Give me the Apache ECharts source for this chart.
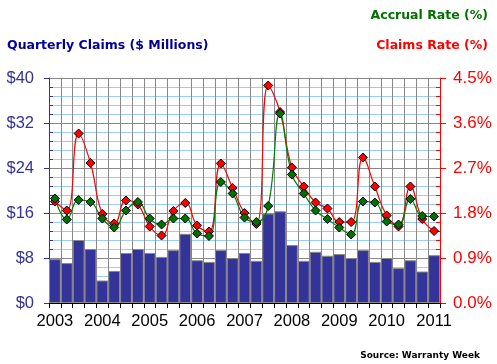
<!DOCTYPE html>
<html><head><meta charset="utf-8">
<script src="https://cdn.jsdelivr.net/npm/echarts@6/dist/echarts.min.js"></script>
<style>html,body{margin:0;padding:0;background:#fff}#c{width:497px;height:364px}</style>
</head><body><div id="c"></div>
<script>
var categories = ['2003 Q1','2003 Q2','2003 Q3','2003 Q4','2004 Q1','2004 Q2','2004 Q3','2004 Q4',
 '2005 Q1','2005 Q2','2005 Q3','2005 Q4','2006 Q1','2006 Q2','2006 Q3','2006 Q4',
 '2007 Q1','2007 Q2','2007 Q3','2007 Q4','2008 Q1','2008 Q2','2008 Q3','2008 Q4',
 '2009 Q1','2009 Q2','2009 Q3','2009 Q4','2010 Q1','2010 Q2','2010 Q3','2010 Q4','2011 Q1'];
var claims = [7.8,7.1,11.2,9.6,4.0,5.7,8.9,9.6,8.9,8.2,9.4,12.3,7.6,7.3,9.4,8.0,
 8.9,7.5,15.9,16.3,10.3,7.5,9.1,8.4,8.7,8.0,9.4,7.3,8.0,6.2,7.6,5.6,8.5];
var claimsRate = [2.03,1.85,3.39,2.80,1.78,1.59,2.05,1.97,1.53,1.35,1.84,2.00,1.55,1.43,2.79,2.30,
 1.80,1.58,4.35,3.82,2.71,2.33,2.01,1.89,1.62,1.62,2.91,2.33,1.75,1.53,2.33,1.68,1.44];
var accrualRate = [2.09,1.67,2.06,2.02,1.69,1.51,1.85,2.02,1.69,1.57,1.69,1.69,1.39,1.34,2.42,2.19,
 1.71,1.62,1.94,3.79,2.57,2.19,1.85,1.68,1.51,1.37,2.03,2.01,1.63,1.57,2.08,1.74,1.73];
var leftTicks = [0, 40, 8];
var rightTicks = [0, 4.5, 0.9];

var chart = echarts.init(document.getElementById('c'));
chart.setOption({
  animation: false,
  backgroundColor: '#fff',
  title: [
    {text: 'Quarterly Claims ($ Millions)', left: 2, top: 34, textStyle: {color: '#000099', fontFamily: 'DejaVu Sans', fontWeight: 'bold', fontSize: 12.5}},
    {text: 'Accrual Rate (%)', right: 4, top: 4, textStyle: {color: '#007000', fontFamily: 'DejaVu Sans', fontWeight: 'bold', fontSize: 12.5}},
    {text: 'Claims Rate (%)', right: 4, top: 34, textStyle: {color: '#ff0000', fontFamily: 'DejaVu Sans', fontWeight: 'bold', fontSize: 12.5}},
    {text: 'Source: Warranty Week', right: 12, top: 346, textStyle: {color: '#000', fontFamily: 'DejaVu Sans', fontWeight: 'bold', fontSize: 9}}
  ],
  grid: {left: 49, right: 57, top: 78, bottom: 61, containLabel: false},
  xAxis: {
    type: 'category', data: categories, boundaryGap: true,
    axisLine: {lineStyle: {color: '#000', width: 1}},
    axisTick: {show: true, interval: 0, length: 5, lineStyle: {color: '#000'}},
    axisLabel: {interval: function(i){return i % 4 === 0;}, formatter: function(v){return v.slice(0,4);},
      color: '#000', fontFamily: 'Liberation Sans', fontSize: 16.5, margin: 10},
    splitLine: {show: true, interval: 0, lineStyle: {color: '#888', width: 1}}
  },
  yAxis: [
    {type: 'value', min: leftTicks[0], max: leftTicks[1], interval: leftTicks[2], position: 'left',
      axisLine: {show: true, lineStyle: {color: '#333399'}},
      axisTick: {show: true, length: 5, lineStyle: {color: '#333399'}},
      minorTick: {show: true, splitNumber: 5, length: -4, lineStyle: {color: '#333399'}},
      minorSplitLine: {show: true, lineStyle: {color: '#99ccff', width: 1}},
      splitLine: {show: true, lineStyle: {color: '#888', width: 1}},
      axisLabel: {formatter: function(v){return '$' + v;}, color: '#333399', fontFamily: 'Liberation Sans', fontSize: 16.5, margin: 15}
    },
    {type: 'value', min: rightTicks[0], max: rightTicks[1], interval: rightTicks[2], position: 'right',
      axisLine: {show: true, lineStyle: {color: '#ff0000'}},
      axisTick: {show: true, length: 6, lineStyle: {color: '#ff0000'}},
      minorTick: {show: true, splitNumber: 5, length: -4, lineStyle: {color: '#ff0000'}},
      splitLine: {show: false},
      axisLabel: {formatter: function(v){return v.toFixed(1) + '%';}, color: '#ff0000', fontFamily: 'Liberation Sans', fontSize: 17, margin: 13}
    }
  ],
  series: [
    {type: 'bar', name: 'Quarterly Claims', data: claims, yAxisIndex: 0, barWidth: '100%', barGap: '0%',
      itemStyle: {color: '#333399', borderColor: '#888', borderWidth: 1}},
    {type: 'line', name: 'Claims Rate', data: claimsRate, yAxisIndex: 1, smooth: 0.45,
      showSymbol: true, showAllSymbol: true, symbol: 'diamond', symbolSize: 9,
      lineStyle: {color: '#ff0000', width: 1.2},
      itemStyle: {color: '#ff0000', borderColor: '#000', borderWidth: 1}},
    {type: 'line', name: 'Accrual Rate', data: accrualRate, yAxisIndex: 1, smooth: 0.45,
      showSymbol: true, showAllSymbol: true, symbol: 'diamond', symbolSize: 9,
      lineStyle: {color: '#008000', width: 1.2},
      itemStyle: {color: '#007000', borderColor: '#000', borderWidth: 1}}
  ]
});
</script></body></html>
